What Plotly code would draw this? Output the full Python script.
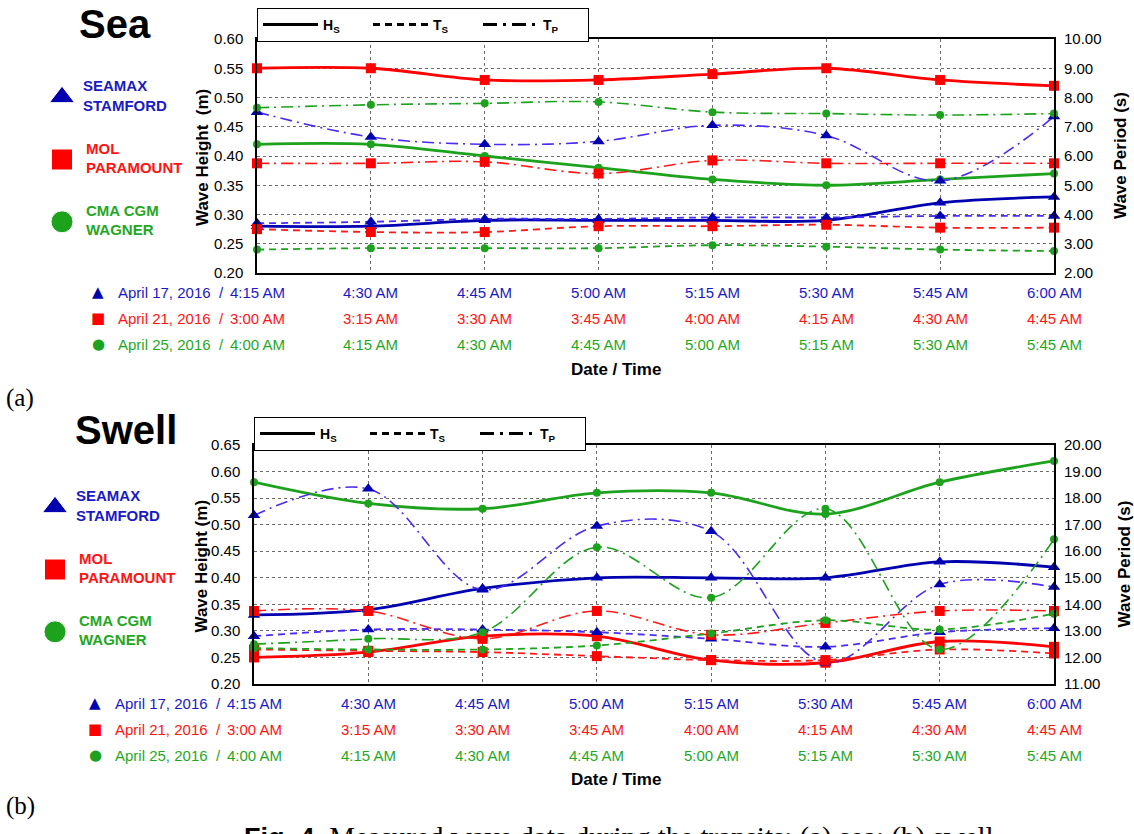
import plotly.graph_objects as go

# ---------------------------------------------------------------- data
ships = ["SEAMAX<br>STAMFORD", "MOL<br>PARAMOUNT", "CMA CGM<br>WAGNER"]
dates = ["April 17, 2016", "April 21, 2016", "April 25, 2016"]

times_seamax = ["4:15 AM", "4:30 AM", "4:45 AM", "5:00 AM", "5:15 AM", "5:30 AM", "5:45 AM", "6:00 AM"]
times_mol = ["3:00 AM", "3:15 AM", "3:30 AM", "3:45 AM", "4:00 AM", "4:15 AM", "4:30 AM", "4:45 AM"]
times_cma = ["4:00 AM", "4:15 AM", "4:30 AM", "4:45 AM", "5:00 AM", "5:15 AM", "5:30 AM", "5:45 AM"]

# Sea state: Hs in m, Ts / Tp in s
sea_hs_seamax = [0.28, 0.28, 0.29, 0.29, 0.29, 0.29, 0.32, 0.33]
sea_ts_seamax = [3.70, 3.75, 3.85, 3.85, 3.90, 3.90, 3.95, 3.95]
sea_tp_seamax = [7.50, 6.65, 6.40, 6.50, 7.05, 6.70, 5.15, 7.35]
sea_hs_mol = [0.55, 0.55, 0.53, 0.53, 0.54, 0.55, 0.53, 0.52]
sea_ts_mol = [3.50, 3.40, 3.40, 3.60, 3.60, 3.65, 3.55, 3.55]
sea_tp_mol = [5.75, 5.75, 5.80, 5.40, 5.85, 5.75, 5.75, 5.75]
sea_hs_cma = [0.42, 0.42, 0.40, 0.38, 0.36, 0.35, 0.36, 0.37]
sea_ts_cma = [2.80, 2.85, 2.85, 2.85, 2.95, 2.90, 2.80, 2.75]
sea_tp_cma = [7.65, 7.75, 7.80, 7.85, 7.50, 7.45, 7.40, 7.45]

# Swell: Hs in m, Ts / Tp in s
swell_hs_seamax = [0.33, 0.34, 0.38, 0.40, 0.40, 0.40, 0.43, 0.42]
swell_ts_seamax = [12.80, 13.05, 13.05, 12.95, 12.70, 12.40, 12.95, 13.10]
swell_tp_seamax = [17.35, 18.35, 14.55, 16.95, 16.75, 11.80, 14.75, 14.65]
swell_hs_mol = [0.25, 0.26, 0.29, 0.29, 0.245, 0.24, 0.28, 0.27]
swell_ts_mol = [12.30, 12.25, 12.20, 12.05, 11.90, 11.90, 12.30, 12.15]
swell_tp_mol = [13.75, 13.75, 12.70, 13.75, 12.85, 13.30, 13.75, 13.75]
swell_hs_cma = [0.58, 0.54, 0.53, 0.56, 0.56, 0.52, 0.58, 0.62]
swell_ts_cma = [12.35, 12.30, 12.30, 12.45, 12.90, 13.40, 13.05, 13.65]
swell_tp_cma = [12.50, 12.70, 12.95, 16.15, 14.25, 17.60, 12.30, 16.45]

# ---------------------------------------------------------------- styling
W, H = 1134, 834
SANS = "Liberation Sans, Arial, sans-serif"
SERIF = "Liberation Serif, Times New Roman, serif"

def fx(p):
    return p / W

def fy(p):
    return 1 - p / H

ship_style = [
    dict(symbol="triangle-up", mark="#0000B0", hs="#0000B0", t="#4A2CF2", text="#1A1AC4", size=11, glyph="▲"),
    dict(symbol="square", mark="#FF0000", hs="#FF0000", t="#FF1A1A", text="#FF1414", size=10, glyph="■"),
    dict(symbol="circle", mark="#1DA21D", hs="#1DA21D", t="#1DA21D", text="#1FA81F", size=8, glyph="●"),
]
times = [times_seamax, times_mol, times_cma]
steps = list(range(len(times_seamax)))

panels = [
    dict(title="Sea", tag="(a)",
         series=[(sea_hs_seamax, sea_ts_seamax, sea_tp_seamax),
                 (sea_hs_mol, sea_ts_mol, sea_tp_mol),
                 (sea_hs_cma, sea_ts_cma, sea_tp_cma)],
         xa="x", ya="y", yb="y2", kx="x3", ky="y5", legend="legend",
         px_x=(257, 1054), px_y=(39, 273), hs_range=[0.2, 0.6], t_range=[2, 10],
         title_xy=(115, 24), tag_y=398, legend_y=8,
         key_y=(66, 253), key_x=62, rows=(292, 318, 344), dt_y=369,
         lt_x=203, rt_x=1121),
    dict(title="Swell", tag="(b)",
         series=[(swell_hs_seamax, swell_ts_seamax, swell_tp_seamax),
                 (swell_hs_mol, swell_ts_mol, swell_tp_mol),
                 (swell_hs_cma, swell_ts_cma, swell_tp_cma)],
         xa="x2", ya="y3", yb="y4", kx="x4", ky="y6", legend="legend2",
         px_x=(254, 1054), px_y=(445, 684), hs_range=[0.2, 0.65], t_range=[11, 20],
         title_xy=(126, 430), tag_y=806, legend_y=417,
         key_y=(476, 663), key_x=55, rows=(703, 729, 755), dt_y=779,
         lt_x=201, rt_x=1124),
]

fig = go.Figure()
annotations = []
layout = {}

GRID = dict(showgrid=True, gridcolor="#6b6b6b", gridwidth=1, griddash="dot", zeroline=False)


def note(text, x, y, size, color="black", family=SANS, xref="paper", **kw):
    d = dict(text=text, x=x, y=y, xref=xref, yref="paper", showarrow=False,
             xanchor="center", yanchor="middle", font=dict(family=family, size=size, color=color))
    d.update(kw)
    annotations.append(d)


for p in panels:
    # measured series
    for s, (hs, ts, tp) in enumerate(p["series"]):
        st = ship_style[s]
        for vals, axis, dash, lc, lw in [
            (tp, p["yb"], "12px,5px,2px,5px", st["t"], 1.6),
            (ts, p["yb"], "7px,5px", st["t"], 1.8),
            (hs, p["ya"], "solid", st["hs"], 2.8),
        ]:
            fig.add_trace(go.Scatter(
                x=steps, y=vals, xaxis=p["xa"], yaxis=axis, mode="lines+markers",
                line=dict(color=lc, width=lw, dash=dash, shape="spline", smoothing=1.0),
                marker=dict(symbol=st["symbol"], color=st["mark"], size=st["size"], opacity=1),
                cliponaxis=False, showlegend=False, hoverinfo="skip"))

    # line-style legend (Hs / Ts / Tp)
    for name, dash in [("<b>H<sub>S</sub></b>", "solid"), ("<b>T<sub>S</sub></b>", "7px,5px"),
                       ("<b>T<sub>P</sub></b>", "14px,6px,3px,6px")]:
        fig.add_trace(go.Scatter(
            x=[None], y=[None], xaxis=p["xa"], yaxis=p["ya"], mode="lines", name=name,
            line=dict(color="black", width=3, dash=dash), legend=p["legend"], showlegend=True))
    layout[p["legend"]] = dict(
        orientation="h", x=fx(p["px_x"][0]), y=fy(p["legend_y"]), xanchor="left", yanchor="top",
        bordercolor="black", borderwidth=1, bgcolor="white",
        font=dict(family=SANS, size=14, color="black"),
        entrywidth=40, itemwidth=55, traceorder="normal")

    # ship key with large symbols
    fig.add_trace(go.Scatter(
        x=[0, 0, 0], y=[2, 1, 0], xaxis=p["kx"], yaxis=p["ky"], mode="markers",
        marker=dict(symbol=[st["symbol"] for st in ship_style],
                    color=[st["mark"] for st in ship_style], size=[22, 21, 22], opacity=1),
        showlegend=False, hoverinfo="skip", cliponaxis=False))
    fig.add_trace(go.Scatter(
        x=[21, 24, 24], y=[2, 1, 0], xaxis=p["kx"], yaxis=p["ky"], mode="text",
        text=[f"<b>{n}</b>" for n in ships], textposition="middle right",
        textfont=dict(family=SANS, size=15, color=[st["text"] for st in ship_style]),
        showlegend=False, hoverinfo="skip", cliponaxis=False))

    x0, x1 = p["px_x"]
    y0, y1 = p["px_y"]
    xname = "xaxis" if p["xa"] == "x" else "xaxis" + p["xa"][1:]
    yname = "yaxis" if p["ya"] == "y" else "yaxis" + p["ya"][1:]
    ybname = "yaxis" + p["yb"][1:]
    kxname = "xaxis" + p["kx"][1:]
    kyname = "yaxis" + p["ky"][1:]

    layout[xname] = dict(domain=[fx(x0), fx(x1)], anchor=p["ya"], range=[0, len(steps) - 1],
                         dtick=1, tick0=0, showticklabels=False, ticks="",
                         showline=True, linecolor="black", linewidth=1.5, mirror=True, **GRID)
    layout[yname] = dict(domain=[fy(y1), fy(y0)], anchor=p["xa"], range=p["hs_range"], dtick=0.05,
                         tick0=0.2, tickformat=".2f", ticks="", ticklabelstandoff=9,
                         tickfont=dict(family=SANS, size=15, color="black"),
                         showline=True, linecolor="black", linewidth=1.5, mirror=True, **GRID)
    layout[ybname] = dict(overlaying=p["ya"], anchor=p["xa"], side="right", range=p["t_range"],
                          dtick=1, tickformat=".2f", ticks="", ticklabelstandoff=9, showgrid=False,
                          zeroline=False, showline=False,
                          tickfont=dict(family=SANS, size=15, color="black"))
    ky0, ky1 = p["key_y"]
    layout[kxname] = dict(domain=[0, fx(226)], anchor=p["ky"], range=[-p["key_x"], 226 - p["key_x"]],
                          visible=False)
    layout[kyname] = dict(domain=[fy(ky1), fy(ky0)], anchor=p["kx"], range=[-0.5, 2.5], visible=False)

    # panel title and tag
    note(f"<b>{p['title']}</b>", fx(p["title_xy"][0]), fy(p["title_xy"][1]), 40)
    note(p["tag"], fx(4), fy(p["tag_y"]), 25, family=SERIF, xanchor="left")
    # axis titles
    note("<b>Wave Height " + ("&nbsp;" if p["title"] == "Sea" else "") + "(m)</b>",
         fx(p["lt_x"]), fy((y0 + y1) / 2 + 2), 17, textangle=-90)
    note("<b>Wave Period (s)</b>", fx(p["rt_x"]), fy((y0 + y1) / 2), 17, textangle=-90)
    # date / time rows under the axis
    for s, st in enumerate(ship_style):
        ry = fy(p["rows"][s])
        for i, t in enumerate(times[s]):
            note(t, i, ry, 15, color=st["text"], xref=p["xa"])
        note(f"{dates[s]}&nbsp; /", 0, ry, 15, color=st["text"], xref=p["xa"],
             xanchor="right", xshift=-31)
        note(st["glyph"], 0, ry, 15, color=st["mark"], family="DejaVu Sans", xref=p["xa"],
             xshift=-159)
    note("<b>Date / Time</b>", fx(616), fy(p["dt_y"]), 17)

note("<span style='font-family:Liberation Sans, Arial;font-weight:bold;font-size:27px'>Fig. 4.</span>"
     " Measured wave data during the transits: (a) sea; (b) swell",
     fx(242), fy(819), 29, family=SERIF, xanchor="left", yanchor="top")

fig.update_layout(
    width=W, height=H, autosize=False,
    margin=dict(l=0, r=0, t=0, b=0, pad=0, autoexpand=False),
    paper_bgcolor="white", plot_bgcolor="white", annotations=annotations, **layout)

fig.write_html("out.html")
